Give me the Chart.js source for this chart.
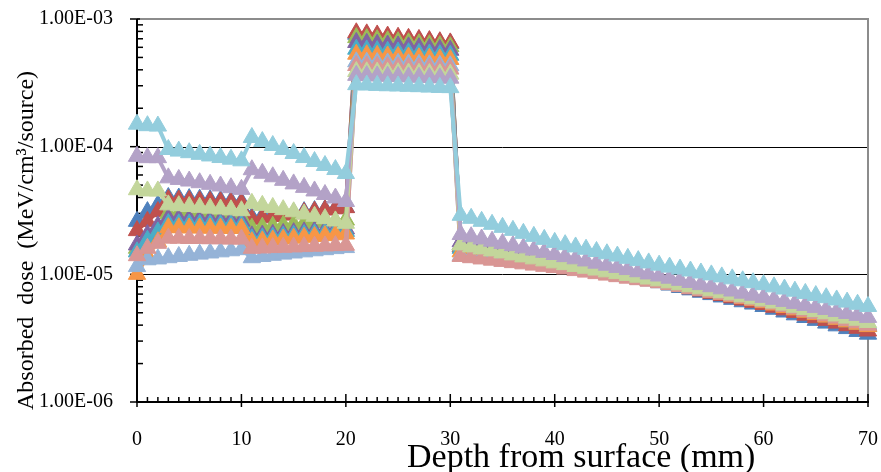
<!DOCTYPE html>
<html>
<head>
<meta charset="utf-8">
<title>Absorbed dose vs depth</title>
<script src="https://cdn.jsdelivr.net/npm/chart.js@4.4.1/dist/chart.umd.min.js"></script>
<style>
    body { margin: 0; background: #fff; }
    #wrap { width: 881px; height: 472px; }
</style>
</head>
<body>
<div id="wrap"><canvas id="doseChart" width="881" height="472"></canvas></div>
<script>
// depth from surface (mm)
const depthMm = [
    0, 1, 2, 3, 4, 5, 6, 7, 8, 9, 10,
    11, 12, 13, 14, 15, 16, 17, 18, 19, 20,
    21, 22, 23, 24, 25, 26, 27, 28, 29, 30,
    31, 32, 33, 34, 35, 36, 37, 38, 39, 40,
    41, 42, 43, 44, 45, 46, 47, 48, 49, 50,
    51, 52, 53, 54, 55, 56, 57, 58, 59, 60,
    61, 62, 63, 64, 65, 66, 67, 68, 69, 70
];

// absorbed dose per series, in units of 1e-6 MeV/cm3/source
const doseBlue = [
    26, 31, 35,
    40, 39.6, 39.2, 38.8, 38.4, 38, 37.5, 37,
    28, 28.6, 29.2, 29.8, 30.4, 31, 31.6, 32.2, 32.8, 33.4,
    760, 745, 730, 717, 704, 691, 678, 666, 654, 642,
    17.0, 16.4, 15.8, 15.2, 14.7, 14.1, 13.6, 13.1, 12.7, 12.2,
    11.8, 11.4, 11.0, 10.6, 10.2, 9.9, 9.5, 9.2, 8.9, 8.6,
    8.24, 7.89, 7.56, 7.24, 6.94, 6.65, 6.37, 6.1, 5.85, 5.6,
    5.33, 5.07, 4.82, 4.59, 4.36, 4.15, 3.95, 3.76, 3.57, 3.4
];
const doseRed = [
    22, 26, 31,
    38.5, 38.2, 37.9, 37.6, 37.3, 37, 36.6, 36.2,
    27, 27.7, 28.4, 29.1, 29.8, 30.5, 31.2, 31.9, 32.6, 33.3,
    780, 765, 750, 735, 720, 706, 692, 678, 664, 650,
    16.5, 15.96, 15.43, 14.92, 14.43, 13.95, 13.49, 13.05, 12.62, 12.2,
    11.8, 11.4, 11.0, 10.67, 10.31, 9.97, 9.64, 9.32, 9.0, 8.7,
    8.35, 8.02, 7.7, 7.4, 7.1, 6.82, 6.55, 6.29, 6.04, 5.8,
    5.53, 5.27, 5.03, 4.79, 4.57, 4.36, 4.15, 3.96, 3.78, 3.6
];
const doseGreen = [
    16, 19.5, 23,
    30, 29.7, 29.4, 29.1, 28.8, 28.5, 28.2, 28,
    23, 23.4, 23.8, 24.2, 24.6, 25, 25.4, 25.8, 26.2, 26.6,
    715, 702, 689, 676, 664, 652, 640, 629, 618, 607,
    17.0, 16.43, 15.88, 15.34, 14.83, 14.33, 13.85, 13.38, 12.93, 12.5,
    12.08, 11.68, 11.29, 10.91, 10.55, 10.19, 9.85, 9.52, 9.21, 8.9,
    8.57, 8.25, 7.95, 7.65, 7.37, 7.09, 6.83, 6.58, 6.33, 6.1,
    5.83, 5.58, 5.33, 5.1, 4.88, 4.66, 4.46, 4.26, 4.08, 3.9
];
const dosePurple = [
    17, 20.5, 24,
    27.5, 27.3, 27.1, 26.9, 26.7, 26.5, 26.3, 26.1,
    20, 20.3, 20.6, 20.9, 21.2, 21.5, 21.8, 22.1, 22.4, 22.7,
    655, 645, 635, 625, 615, 605, 596, 587, 578, 569,
    18.0, 17.33, 16.69, 16.07, 15.47, 14.89, 14.34, 13.81, 13.29, 12.8,
    12.36, 11.93, 11.52, 11.12, 10.74, 10.36, 10.01, 9.66, 9.33, 9.0,
    8.67, 8.35, 8.05, 7.75, 7.47, 7.19, 6.93, 6.68, 6.43, 6.2,
    5.93, 5.68, 5.44, 5.2, 4.98, 4.77, 4.56, 4.37, 4.18, 4.0
];
const doseAqua = [
    15, 18.5, 21.5,
    25, 24.9, 24.8, 24.7, 24.6, 24.5, 24.4, 24.3,
    19, 19.3, 19.6, 19.9, 20.2, 20.5, 20.8, 21.1, 21.4, 21.7,
    580, 573, 566, 559, 552, 545, 538, 532, 526, 520,
    16.0, 15.53, 15.07, 14.62, 14.18, 13.76, 13.35, 12.96, 12.57, 12.2,
    11.81, 11.43, 11.06, 10.71, 10.36, 10.03, 9.71, 9.4, 9.09, 8.8,
    8.48, 8.18, 7.88, 7.6, 7.33, 7.06, 6.81, 6.56, 6.33, 6.1,
    5.83, 5.58, 5.33, 5.1, 4.88, 4.66, 4.46, 4.26, 4.08, 3.9
];
const doseOrange = [
    10, 14, 18,
    23.2, 23.2, 23.1, 23.1, 23.0, 23.0, 22.9, 22.9,
    18, 18.3, 18.6, 18.9, 19.2, 19.5, 19.8, 20.1, 20.4, 20.7,
    530, 525, 519, 514, 508, 503, 497, 492, 487, 482,
    15.0, 14.61, 14.22, 13.85, 13.48, 13.13, 12.78, 12.45, 12.12, 11.8,
    11.45, 11.1, 10.77, 10.45, 10.13, 9.83, 9.53, 9.25, 8.97, 8.7,
    8.38, 8.08, 7.78, 7.5, 7.22, 6.96, 6.71, 6.46, 6.23, 6.0,
    5.75, 5.5, 5.27, 5.05, 4.84, 4.63, 4.44, 4.25, 4.07, 3.9
];
const doseLightBlue = [
    11.5, 13, 13.2,
    13.5, 13.8, 14.1, 14.4, 14.7, 15, 15.3, 15.6,
    13.5, 13.8, 14.1, 14.4, 14.7, 15, 15.3, 15.6, 15.9, 16.2,
    462, 459, 456, 453, 450, 446, 442, 438, 434, 430,
    14.0, 13.71, 13.43, 13.15, 12.88, 12.61, 12.35, 12.1, 11.84, 11.6,
    11.28, 10.98, 10.68, 10.39, 10.1, 9.83, 9.56, 9.3, 9.05, 8.8,
    8.5, 8.2, 7.92, 7.65, 7.38, 7.13, 6.88, 6.65, 6.42, 6.2,
    5.95, 5.71, 5.48, 5.25, 5.04, 4.84, 4.64, 4.45, 4.27, 4.1
];
const dosePink = [
    14, 16, 17.5,
    19.2, 19.2, 19.1, 19.1, 19.0, 19.0, 18.9, 18.9,
    16, 16.1, 16.2, 16.3, 16.4, 16.5, 16.6, 16.7, 16.8, 16.9,
    432, 429, 426, 423, 420, 417, 414, 411, 408, 405,
    13.8, 13.5, 13.2, 12.91, 12.63, 12.35, 12.08, 11.81, 11.55, 11.3,
    11.0, 10.7, 10.41, 10.13, 9.86, 9.59, 9.33, 9.08, 8.84, 8.6,
    8.31, 8.03, 7.76, 7.49, 7.24, 6.99, 6.76, 6.53, 6.31, 6.1,
    5.85, 5.61, 5.37, 5.15, 4.94, 4.73, 4.54, 4.35, 4.17, 4.0
];
const doseLightGreen = [
    46, 45, 45,
    35, 34.5, 34, 33.5, 33, 32.5, 32, 31.5,
    36, 34.7, 33.4, 32.1, 30.9, 29.7, 28.5, 27.3, 26.2, 25.1,
    388, 386, 384, 382, 380, 378, 376, 374, 372, 370,
    17.0, 16.4, 15.82, 15.26, 14.72, 14.2, 13.7, 13.22, 12.75, 12.3,
    11.91, 11.53, 11.16, 10.81, 10.46, 10.13, 9.81, 9.5, 9.19, 8.9,
    8.58, 8.28, 7.99, 7.7, 7.43, 7.17, 6.91, 6.67, 6.43, 6.2,
    5.96, 5.74, 5.52, 5.31, 5.1, 4.91, 4.72, 4.54, 4.37, 4.2
];
const doseLightPurple = [
    84, 82, 82,
    57, 55.4, 53.8, 52.2, 50.7, 49.2, 47.7, 46.3,
    66, 61.9, 58.1, 54.5, 51.1, 48, 45, 42.2, 39.6, 37.2,
    362, 360, 358, 356, 354, 352, 350, 348, 346, 344,
    20.5, 19.7, 18.92, 18.18, 17.47, 16.78, 16.12, 15.49, 14.88, 14.3,
    13.76, 13.23, 12.73, 12.24, 11.78, 11.33, 10.9, 10.48, 10.08, 9.7,
    9.33, 8.98, 8.64, 8.31, 8.0, 7.7, 7.4, 7.12, 6.86, 6.6,
    6.37, 6.14, 5.92, 5.71, 5.51, 5.31, 5.12, 4.94, 4.77, 4.6
];
const doseLightAqua = [
    150, 146, 145,
    95, 92.3, 89.7, 87.1, 84.6, 82.2, 79.8, 77.5,
    118, 109.7, 102.1, 95, 88.4, 82.2, 76.5, 71.2, 66.2, 61.6,
    306, 304, 302, 300, 299, 297, 295, 293, 291, 290,
    29.0, 27.47, 26.02, 24.65, 23.35, 22.11, 20.95, 19.84, 18.79, 17.8,
    17.08, 16.39, 15.73, 15.1, 14.49, 13.91, 13.35, 12.81, 12.29, 11.8,
    11.39, 11.0, 10.62, 10.25, 9.9, 9.55, 9.22, 8.9, 8.6, 8.3,
    7.98, 7.67, 7.38, 7.09, 6.82, 6.56, 6.3, 6.06, 5.83, 5.6
];

const xTickValues = [0, 10, 20, 30, 40, 50, 60, 70];
const yTickValues = [1e-6, 1e-5, 1e-4, 1e-3];
const yTickLabels = ['1.00E-06', '1.00E-05', '1.00E-04', '1.00E-03'];

const SERIF = "'Liberation Serif', 'Times New Roman', serif";

const seriesList = [
    { name: 'Series1', values: doseBlue, color: '#4F81BD' },
    { name: 'Series2', values: doseRed, color: '#C0504D' },
    { name: 'Series3', values: doseGreen, color: '#9BBB59' },
    { name: 'Series4', values: dosePurple, color: '#8064A2' },
    { name: 'Series5', values: doseAqua, color: '#4BACC6' },
    { name: 'Series6', values: doseOrange, color: '#F79646' },
    { name: 'Series7', values: doseLightBlue, color: '#95B3D7' },
    { name: 'Series8', values: dosePink, color: '#D99694' },
    { name: 'Series9', values: doseLightGreen, color: '#C3D69B' },
    { name: 'Series10', values: doseLightPurple, color: '#B3A2C7' },
    { name: 'Series11', values: doseLightAqua, color: '#93CDDD' }
];

// chart.js paints dataset 0 last, so reverse to keep the last series on top
const datasets = seriesList.map(s => ({
    label: s.name,
    data: s.values.map((v, i) => ({ x: depthMm[i], y: v * 1e-6 })),
    borderColor: s.color,
    backgroundColor: s.color,
    pointBackgroundColor: s.color,
    pointBorderColor: s.color,
    borderWidth: 4,
    pointStyle: 'triangle',
    pointRadius: 10,
    pointBorderWidth: 1,
    tension: 0,
    clip: false
})).reverse();

// no extra room for overhanging tick labels: the plot box is set by padding
const noOverhang = scale => {
    scale.paddingLeft = 0;
    scale.paddingRight = 0;
    scale.paddingTop = 0;
    scale.paddingBottom = 0;
};

// gridlines, frame and tick marks drawn under the series
const axisFrame = {
    id: 'axisFrame',
    beforeDatasetsDraw(chart) {
        const { ctx, chartArea: a, scales } = chart;
        const xs = scales.x, ys = scales.y;
        const seg = (x1, y1, x2, y2) => {
            ctx.beginPath();
            ctx.moveTo(x1, y1);
            ctx.lineTo(x2, y2);
            ctx.stroke();
        };
        ctx.save();

        ctx.strokeStyle = '#000';
        ctx.lineWidth = 1;
        [1e-5, 1e-4].forEach(v => {
            const py = Math.round(ys.getPixelForValue(v)) + 0.5;
            seg(a.left, py, a.right, py);
        });

        ctx.strokeStyle = '#8c8c8c';
        ctx.lineWidth = 2;
        seg(a.left, a.top, a.right + 1, a.top);
        seg(a.right, a.top, a.right, a.bottom);

        ctx.strokeStyle = '#000';
        ctx.lineWidth = 2;
        seg(a.left, a.top, a.left, a.bottom + 1);
        seg(a.left, a.bottom, a.right + 1, a.bottom);

        // y ticks: decades outside, 2..9 inside
        ctx.lineWidth = 1.5;
        yTickValues.forEach(v => {
            const py = ys.getPixelForValue(v);
            seg(a.left - 7, py, a.left + 3, py);
        });
        yTickValues.slice(0, -1).forEach(d => {
            for (let k = 2; k <= 9; k++) {
                const py = ys.getPixelForValue(k * d);
                seg(a.left, py, a.left + 6, py);
            }
        });

        // x ticks: every 10 across the axis, every 1 inside
        for (let d = 0; d <= 70; d++) {
            const px = xs.getPixelForValue(d);
            if (d % 10 === 0) seg(px, a.bottom - 8, px, a.bottom + 5);
            else seg(px, a.bottom - 5, px, a.bottom);
        }
        ctx.restore();
    },
    afterDraw(chart) {
        const { ctx, chartArea: a } = chart;
        ctx.save();
        ctx.fillStyle = '#000';
        ctx.textBaseline = 'alphabetic';
        ctx.textAlign = 'left';

        ctx.font = '34px ' + SERIF;
        ctx.fillText('Depth from surface (mm)', a.left + 270, a.bottom + 65);

        ctx.translate(33, a.bottom + 8);
        ctx.rotate(-Math.PI / 2);
        ctx.font = '24px ' + SERIF;
        ctx.fillText('Absorbed  dose  (MeV/cm\u00B3/source)', 0, 0);
        ctx.restore();
    }
};

new Chart(document.getElementById('doseChart'), {
    type: 'line',
    data: { datasets: datasets },
    options: {
        responsive: false,
        animation: false,
        events: [],
        layout: { padding: { top: 19, right: 13, bottom: 0, left: 0 } },
        plugins: {
            legend: { display: false },
            tooltip: { enabled: false }
        },
        scales: {
            x: {
                type: 'linear',
                min: 0,
                max: 70,
                afterFit: scale => { scale.height = 70; noOverhang(scale); },
                afterBuildTicks: scale => {
                    scale.ticks = xTickValues.map(v => ({ value: v }));
                },
                grid: { display: false, drawTicks: false },
                border: { display: false },
                ticks: {
                    padding: 26,
                    color: '#000',
                    maxRotation: 0,
                    autoSkip: false,
                    font: { family: SERIF, size: 20 },
                    callback: v => String(v)
                }
            },
            y: {
                type: 'logarithmic',
                min: 1e-6,
                max: 1e-3,
                afterFit: scale => { scale.width = 137; noOverhang(scale); },
                afterBuildTicks: scale => {
                    scale.ticks = yTickValues.map(v => ({ value: v }));
                },
                grid: { display: false, drawTicks: false },
                border: { display: false },
                ticks: {
                    padding: 24,
                    color: '#000',
                    autoSkip: false,
                    font: { family: SERIF, size: 20 },
                    callback: v => yTickLabels[yTickValues.findIndex(t => Math.abs(t - v) / t < 1e-6)]
                }
            }
        }
    },
    plugins: [axisFrame]
});
</script>
</body>
</html>
